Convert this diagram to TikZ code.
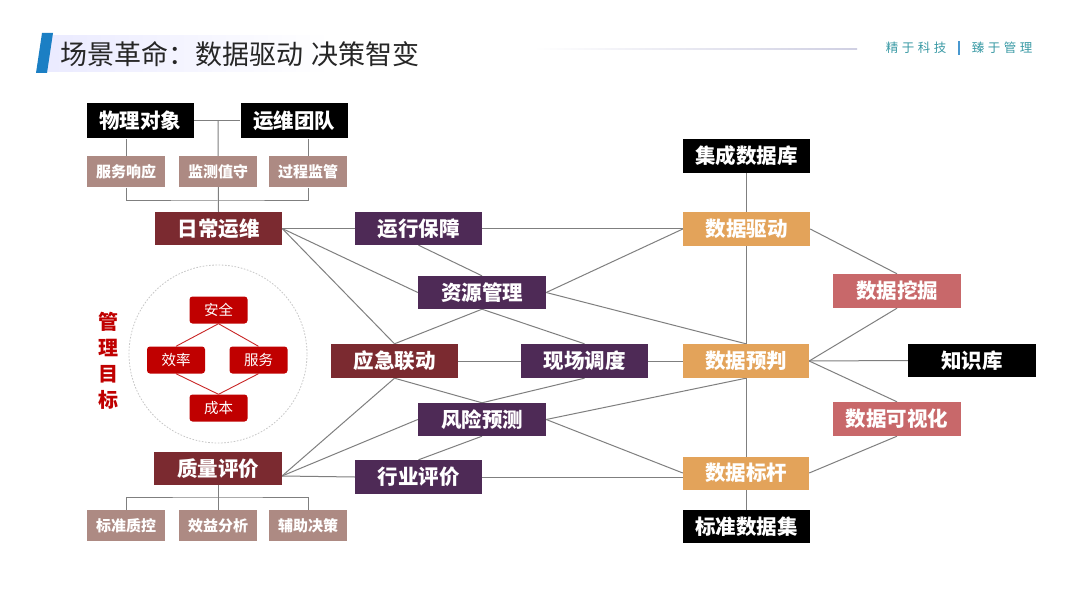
\documentclass[tikz,border=0pt]{standalone}
\usepackage{fontspec}
\setmainfont{Noto Sans CJK SC}
\usetikzlibrary{backgrounds}
\definecolor{dred}{HTML}{7B2A30}
\definecolor{dpur}{HTML}{4E2A56}
\definecolor{orng}{HTML}{E3A35A}
\definecolor{rose}{HTML}{C8686A}
\definecolor{tan}{HTML}{AD8A83}
\definecolor{mred}{HTML}{C00000}
\definecolor{lgray}{HTML}{7F7F7F}
\definecolor{teal}{HTML}{3A9AA5}
\definecolor{bbar}{HTML}{1B7FC4}
\tikzset{
  base/.style={inner sep=0pt, text=white, font=\bfseries\fontsize{20.5}{20.5}\selectfont, minimum width=127, minimum height=34},
  blkbox/.style={base, fill=black},
  redbox/.style={base, fill=dred},
  purbox/.style={base, fill=dpur},
  orgbox/.style={base, fill=orng},
  rosebox/.style={base, fill=rose},
  tanbox/.style={base, fill=tan, minimum width=78, minimum height=31, font=\bfseries\fontsize{15}{15}\selectfont},
  goalbox/.style={inner sep=0pt, fill=mred, rounded corners=3pt, text=white, minimum width=58, minimum height=27, font=\fontsize{14.5}{14.5}\selectfont},
  conn/.style={draw=lgray, line width=1pt},
  rconn/.style={draw=mred!85, line width=0.9pt}
}
\begin{document}
\begin{tikzpicture}[x=1pt,y=-1pt]
\useasboundingbox (0,0) rectangle (1080,607);
% title
\shade[left color=blue!8!white, right color=white] (46,36) rectangle (330,72);
\shade[left color=white, right color=blue!25!gray!30] (533,48.3) rectangle (857,49.7);
\fill[bbar] (42,33) -- (53,33) -- (47,73) -- (36,73) -- cycle;
\node[anchor=west, inner sep=0pt, text=black!85, font=\fontsize{27}{27}\selectfont] (title) at (60,54) {场景革命：数据驱动\hspace{0.3em}决策智变};
\node[inner sep=0pt, text=teal, font=\fontsize{12.5}{12.5}\selectfont\addfontfeature{LetterSpace=28}] (s1) at (916,48) {精于科技};
\node[inner sep=0pt, text=teal, font=\fontsize{12.5}{12.5}\selectfont\addfontfeature{LetterSpace=28}] (s2) at (1002,48) {臻于管理};
\fill[bbar!80] (957.5,41) rectangle (959.5,55);

% left top tree
\node[blkbox, minimum width=107, minimum height=35] (wl) at (140,121) {物理对象};
\node[blkbox, minimum width=107, minimum height=35] (yw) at (294,121) {运维团队};
\node[tanbox] (fw) at (126,172) {服务响应};
\node[tanbox] (jc) at (218,172) {监测值守};
\node[tanbox] (gc) at (308,172) {过程监管};
\node[redbox, minimum height=33] (rc) at (218.5,228.5) {日常运维};

% middle
\node[purbox, minimum height=33] (yx) at (418.5,228.5) {运行保障};
\node[purbox, minimum height=33, minimum width=128] (zy) at (482,292.5) {资源管理};
\node[redbox] (yj) at (394.5,361) {应急联动};
\node[purbox] (xc) at (584.5,361) {现场调度};
\node[purbox, minimum height=33, minimum width=128] (fx) at (482,419.5) {风险预测};
\node[purbox] (hy) at (418.5,477) {行业评价};

% left bottom tree
\node[redbox, minimum height=33, minimum width=128] (zl) at (218,468.5) {质量评价};
\node[tanbox] (bz) at (126,525.5) {标准质控};
\node[tanbox] (xy) at (218,525.5) {效益分析};
\node[tanbox] (fz) at (308,525.5) {辅助决策};

% right
\node[blkbox] (jk) at (746.5,156) {集成数据库};
\node[orgbox] (sq) at (746.5,229) {数据驱动};
\node[orgbox, minimum width=126] (yp) at (746,361) {数据预判};
\node[orgbox, minimum width=126, minimum height=33] (bg) at (746,473) {数据标杆};
\node[blkbox, minimum height=33] (bj) at (746.5,526.5) {标准数据集};
\node[rosebox, minimum width=128] (wj) at (897,291) {数据挖掘};
\node[blkbox, minimum width=128, minimum height=33] (zs) at (972,360.5) {知识库};
\node[rosebox, minimum width=128] (ks) at (897,419) {数据可视化};

% management goals
\node[circle, draw=black!22, dash pattern=on 1.6pt off 1.6pt, line width=0.8pt, minimum size=178, inner sep=0pt] (goalc) at (218,354) {};
\node[goalbox] (aq) at (218.5,310) {安全};
\node[goalbox] (xl) at (176,360) {效率};
\node[goalbox] (fwu) at (258.5,360) {服务};
\node[goalbox] (cb) at (218.5,408) {成本};
\node[inner sep=0pt, text=mred, font=\bfseries\fontsize{20}{26}\selectfont, align=center] (gl) at (108,361) {管\\理\\目\\标};

\coordinate (jt) at (218,121);
\coordinate (jd) at (218,201);
\coordinate (jb) at (218,497);
\coordinate (cv) at (282,476);

\begin{pgfonlayer}{background}
  \fill[white] (0,0) rectangle (1080,607);
  % top tree
  \draw[conn] (wl.east) -- (yw.west);
  \draw[conn] (jt) -- (rc.north);
  \draw[conn] (fw.north |- wl.south) -- (fw.north);
  \draw[conn] (gc.north |- yw.south) -- (gc.north);
  \draw[conn] (fw.south) |- (jd) -| (gc.south);
  % bottom tree
  \draw[conn] (zl.south) -- (xy.north);
  \draw[conn] (bz.north) |- (jb) -| (fz.north);
  % network
  \draw[conn] (rc.east) -- (yx.west);
  \draw[conn] (yx.east) -- (sq.west |- yx.east);
  \draw[conn] (rc.east) -- (zy.west);
  \draw[conn] (rc.east) -- (yj.north);
  \draw[conn] (yx.south) -- (zy.north);
  \draw[conn] (zy.east) -- (sq.west);
  \draw[conn] (zy.east) -- (yp.north);
  \draw[conn] (zy.south) -- (yj.north);
  \draw[conn] (zy.south) -- (xc.north);
  \draw[conn] (yj.east) -- (xc.west);
  \draw[conn] (xc.east) -- (yp.west);
  \draw[conn] (yj.south) -- (fx.north);
  \draw[conn] (xc.south) -- (fx.north);
  \draw[conn] (cv) -- (yj.south);
  \draw[conn] (cv) -- (fx.west);
  \draw[conn] (cv) -- (hy.west);
  \draw[conn] (hy.east) -- (bg.west |- hy.east);
  \draw[conn] (hy.north) -- (fx.south);
  \draw[conn] (fx.east) -- (yp.south);
  \draw[conn] (fx.east) -- (bg.west);
  \draw[conn] (jk.south) -- (bj.north);
  \draw[conn] (sq.east) -- (wj.north);
  \draw[conn] (wj.south) -- (yp.east);
  \draw[conn] (yp.east) -- (zs.west);
  \draw[conn] (yp.east) -- (ks.north);
  \draw[conn] (ks.south) -- (bg.east);
  % goals
  \draw[rconn] (aq.south) -- (xl.north);
  \draw[rconn] (aq.south) -- (fwu.north);
  \draw[rconn] (xl.south) -- (cb.north);
  \draw[rconn] (fwu.south) -- (cb.north);
\end{pgfonlayer}
\end{tikzpicture}
\end{document}
